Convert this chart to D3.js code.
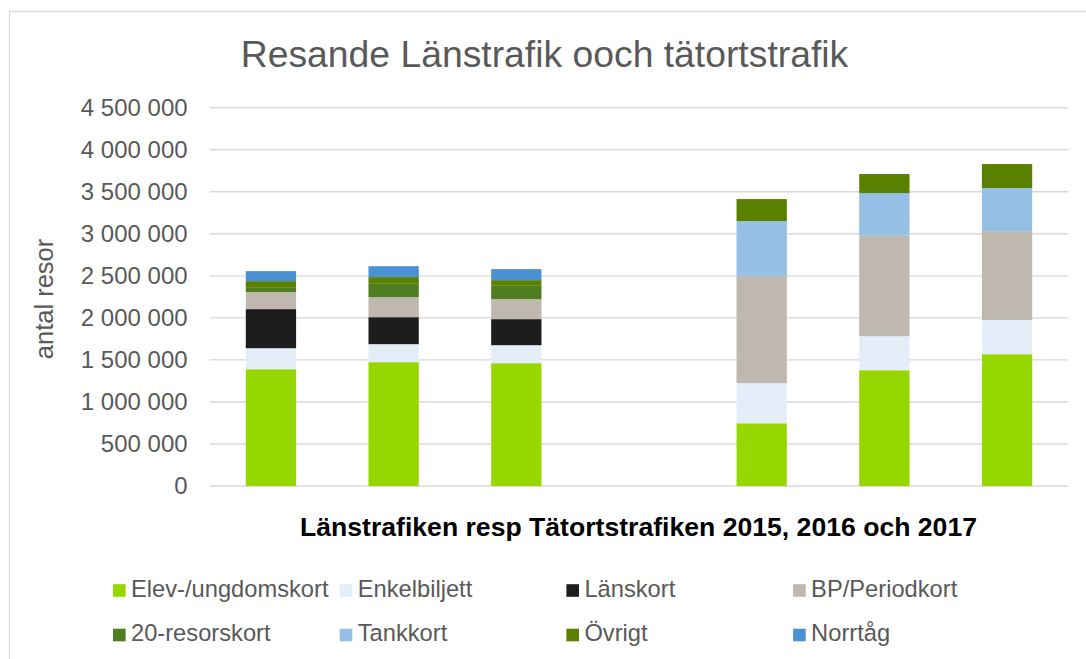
<!DOCTYPE html>
<html>
<head>
<meta charset="utf-8">
<script src="https://cdn.jsdelivr.net/npm/d3@7"></script>
<style>
  body { margin: 0; background: #fff; font-family: 'Liberation Sans', Arial, sans-serif; }
  #chart { width: 1086px; height: 659px; }
</style>
</head>
<body>
<div id="chart"></div>
<script>
// Categories: three years Länstrafik, an empty slot, three years Tätortstrafik
const categories = ['Län 2015', 'Län 2016', 'Län 2017', ' ', 'Tätort 2015', 'Tätort 2016', 'Tätort 2017'];

const seriesNames = ['Elev-/ungdomskort', 'Enkelbiljett', 'Länskort', 'BP/Periodkort',
  '20-resorskort', 'Tankkort', 'Övrigt', 'Norrtåg'];

// values (antal resor)
const elev = [1389000, 1473000, 1461000, 0, 746000, 1377000, 1568000];
const enkel = [250000, 214000, 214000, 0, 477000, 405000, 405000];
const lanskort = [465000, 321000, 310000, 0, 0, 0, 0];
const periodkort = [202000, 238000, 238000, 0, 1277000, 1194000, 1059000];
const resor20 = [51000, 159000, 158000, 0, 0, 0, 0];
const tankkort = [0, 0, 0, 0, 651000, 509000, 512000];
const ovrigt = [80000, 80000, 68000, 0, 262000, 226000, 286000];
const norrtag = [119000, 130000, 131000, 0, 0, 0, 0];

const yTicks = [0, 500000, 1000000, 1500000, 2000000, 2500000, 3000000, 3500000, 4000000, 4500000];

const seriesColors = ['#96d700', '#e4eef8', '#1d1d1d', '#bfb8ae', '#4e7e20', '#96bfe5', '#5a8000', '#4a91d3'];

class StackedBars {
  constructor(containerId) {
    this.containerId = containerId;
    this.init();
    this.render();
  }

  init() {
    const vis = this;
    vis.width = 1086;
    vis.height = 659;

    vis.svg = d3.select(`#${vis.containerId}`)
      .append('svg')
      .attr('width', vis.width)
      .attr('height', vis.height);

    // outer chart border (runs off the right and bottom edge)
    vis.svg.append('rect')
      .attr('x', 9.5)
      .attr('y', 11.5)
      .attr('width', 1100)
      .attr('height', 700)
      .attr('fill', 'none')
      .attr('stroke', '#d9d9d9')
      .attr('stroke-width', 1.2);

    vis.xScale = d3.scaleBand()
      .domain(categories)
      .range([209.6, 1068.4])
      .paddingInner(0.59)
      .paddingOuter(0.295);

    vis.yScale = d3.scaleLinear()
      .domain([0, 4500000])
      .range([486, 107.7]);

    vis.colorScale = d3.scaleOrdinal()
      .domain(seriesNames)
      .range(seriesColors);
  }

  render() {
    const vis = this;

    // gridlines behind bars
    vis.svg.append('g')
      .attr('class', 'grid')
      .selectAll('line')
      .data(yTicks)
      .enter()
      .append('line')
      .attr('x1', 209.6)
      .attr('x2', 1068.4)
      .attr('y1', (d) => vis.yScale(d))
      .attr('y2', (d) => vis.yScale(d))
      .attr('stroke', '#d9d9d9')
      .attr('stroke-width', 1.4);

    const values = [elev, enkel, lanskort, periodkort, resor20, tankkort, ovrigt, norrtag];
    const table = categories.map((c, i) => {
      const row = { cat: c };
      seriesNames.forEach((s, j) => { row[s] = values[j][i]; });
      return row;
    });

    const stacked = d3.stack().keys(seriesNames)(table);

    vis.svg.append('g')
      .attr('class', 'bars')
      .selectAll('g')
      .data(stacked)
      .enter()
      .append('g')
      .attr('fill', (d) => vis.colorScale(d.key))
      .selectAll('rect')
      .data((d) => d.filter((p) => p[1] - p[0] > 0))
      .enter()
      .append('rect')
      .attr('x', (d) => vis.xScale(d.data.cat))
      .attr('width', vis.xScale.bandwidth())
      .attr('y', (d) => vis.yScale(d[1]))
      .attr('height', (d) => vis.yScale(d[0]) - vis.yScale(d[1]));

    vis.renderAxes();
    vis.initLegend();
  }

  renderAxes() {
    const vis = this;

    const fmt = (d) => d3.format(',')(d).replace(/,/g, ' ');

    vis.yAxis = d3.axisLeft(vis.yScale)
      .tickValues(yTicks)
      .tickSize(0)
      .tickPadding(22)
      .tickFormat(fmt);

    const yg = vis.svg.append('g')
      .attr('class', 'y-axis')
      .attr('transform', 'translate(209.6,0)')
      .call(vis.yAxis);
    yg.select('.domain').remove();
    yg.selectAll('text')
      .attr('fill', '#595959')
      .style('font-size', '24px')
      .style('font-family', "'Liberation Sans', Arial, sans-serif");

    // title
    vis.svg.append('text')
      .attr('x', 544.5)
      .attr('y', 67)
      .attr('text-anchor', 'middle')
      .attr('fill', '#595959')
      .style('font-size', '37.3px')
      .text('Resande Länstrafik ooch tätortstrafik');

    // y axis title
    vis.svg.append('text')
      .attr('transform', 'translate(53,299) rotate(-90)')
      .attr('text-anchor', 'middle')
      .attr('fill', '#595959')
      .style('font-size', '25.5px')
      .text('antal resor');

    // x axis title
    vis.svg.append('text')
      .attr('x', 638.5)
      .attr('y', 536)
      .attr('text-anchor', 'middle')
      .attr('fill', '#000')
      .style('font-size', '26.6px')
      .style('font-weight', 'bold')
      .text('Länstrafiken resp Tätortstrafiken 2015, 2016 och 2017');
  }

  initLegend() {
    const vis = this;
    const colX = (i) => 113 + (i % 4) * 226.7;
    const rowY = (i) => 590.5 + Math.floor(i / 4) * 44.5;

    const items = vis.svg.append('g')
      .attr('class', 'legend')
      .selectAll('g')
      .data(seriesNames)
      .enter()
      .append('g')
      .attr('transform', (d, i) => `translate(${colX(i)},${rowY(i)})`);

    items.append('rect')
      .attr('x', 0)
      .attr('y', -6.3)
      .attr('width', 12.6)
      .attr('height', 12.6)
      .attr('fill', (d) => vis.colorScale(d));

    items.append('text')
      .attr('x', 18)
      .attr('y', 6.3)
      .attr('fill', '#595959')
      .style('font-size', '23.7px')
      .text((d) => d);
  }
}

new StackedBars('chart');
</script>
</body>
</html>
